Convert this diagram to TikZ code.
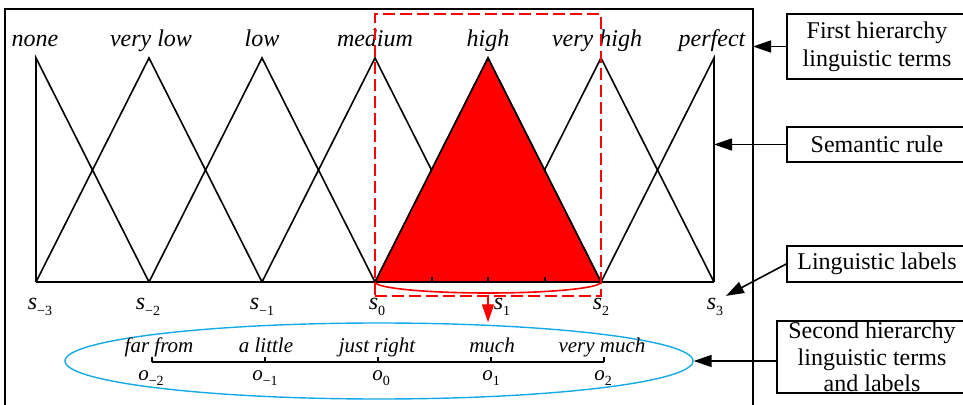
\documentclass[tikz,border=0pt]{standalone}
\usepackage{fontspec}
\setmainfont{Liberation Serif}
\usetikzlibrary{arrows.meta,shapes.geometric}
\definecolor{skyline}{RGB}{20,170,230}
% letter with a lowered index, e.g. s_{-3}
\newcommand{\idx}[3]{\fontsize{#3}{#3}\selectfont\textit{#1}\raisebox{-2.6pt}{\fontsize{7}{7}\selectfont #2}}

\begin{document}
\begin{tikzpicture}[
    x=0.5pt, y=-0.5pt, line width=0.8pt,
    termlab/.style={font=\fontsize{12}{14}\selectfont\itshape, anchor=base, inner sep=1pt},
    subterm/.style={font=\fontsize{10.5}{12}\selectfont\itshape, anchor=base, inner sep=1pt},
    idxlab/.style={anchor=base, inner sep=1pt},
    infobox/.style={rectangle, draw, align=center, font=\fontsize{12}{13.8}\selectfont, minimum width=90pt, inner sep=2pt},
    arrow/.style={-{Triangle[length=9pt, width=6pt]}},
    redarrow/.style={-{Triangle[length=9pt, width=6pt]}, red}
]
    \useasboundingbox (0,0) rectangle (963,405);
    % outer frame, open at the bottom
    \draw (5,410) -- (5,9) -- (753,9) -- (753,410);

    % membership functions of the first hierarchy
    \draw (36,282) -- (36,58) -- (149,282);
    \foreach \x in {149,262,375,488,601}
        \draw (\x-113,282) -- (\x,58) -- (\x+113,282);
    \draw (601,282) -- (714,58) -- (714,282);
    \draw (36,282) -- (714,282);
    \filldraw[fill=red] (375,282) -- (488,58) -- (601,282) -- cycle;
    \foreach \x in {432,488,545}
        \draw (\x,282) -- (\x,277);

    \node[termlab] (none) at (35,47) {none};
    \node[termlab] (verylow) at (151,47) {very low};
    \node[termlab] (low) at (262,47) {low};
    \node[termlab] (medium) at (375,47) {medium};
    \node[termlab] (high) at (488,47) {high};
    \node[termlab] (veryhigh) at (597,47) {very high};
    \node[termlab] (perfect) at (712,47) {perfect};

    \node[idxlab] (sm3) at (40,310) {\idx{s}{−3}{12}};
    \node[idxlab] (sm2) at (148,310) {\idx{s}{−2}{12}};
    \node[idxlab] (sm1) at (262,310) {\idx{s}{−1}{12}};
    \node[idxlab] (s0) at (377,310) {\idx{s}{0}{12}};
    \node[idxlab] (s1) at (502,310) {\idx{s}{1}{12}};
    \node[idxlab] (s2) at (601,310) {\idx{s}{2}{12}};
    \node[idxlab] (s3) at (715,310) {\idx{s}{3}{12}};

    % window on high and its refinement
    \node[draw=red, dashed, dash pattern=on 6pt off 2.5pt, minimum width=113pt, minimum height=141pt, inner sep=0pt] (win) at (488,155) {};
    \draw[red] (375,282) arc[start angle=180, end angle=0, x radius=113, y radius=11];
    \node[ellipse, draw=skyline, line width=0.7pt, minimum width=314pt, minimum height=38pt, inner sep=0pt] (ell) at (379,361) {};
    \draw[redarrow] (win.south) -- (win.south |- ell.north);

    % second hierarchy scale
    \draw (152,362) -- (604,362);
    \foreach \x in {152,265,378,491,604}
        \draw (\x,362) -- (\x,357);
    \node[subterm] (farfrom) at (159,353) {far from};
    \node[subterm] (alittle) at (266,353) {a little};
    \node[subterm] (justright) at (377,353) {just right};
    \node[subterm] (much) at (492,353) {much};
    \node[subterm] (verymuch) at (602,353) {very much};

    \node[idxlab] (om2) at (151,380) {\idx{o}{−2}{10.5}};
    \node[idxlab] (om1) at (265,380) {\idx{o}{−1}{10.5}};
    \node[idxlab] (o0) at (381,380) {\idx{o}{0}{10.5}};
    \node[idxlab] (o1) at (491,380) {\idx{o}{1}{10.5}};
    \node[idxlab] (o2) at (603,380) {\idx{o}{2}{10.5}};

    % explanation boxes
    \node[infobox, minimum height=32.5pt] (first) at (877,46.5) {First hierarchy\\linguistic terms};
    \node[infobox, minimum height=17.5pt] (rule) at (877,144.5) {Semantic rule};
    \node[infobox, minimum height=18pt] (labels) at (877,264) {Linguistic labels};
    \node[infobox, minimum width=95pt, minimum height=36pt, inner ysep=0pt, font=\fontsize{12}{13.3}\selectfont] (second) at (872,357) {Second hierarchy\\linguistic terms\\and labels};

    \coordinate (frameR) at (753,0);
    \coordinate (perfR) at (714,0);
    \draw[arrow] (first.west) -- (first.west -| frameR);
    \draw[arrow] (rule.west) -- (rule.west -| perfR);
    \draw[arrow] (labels.west) -- (s3.north east);
    \draw[arrow] (second.west |- ell.east) -- (ell.east);
\end{tikzpicture}
\end{document}
